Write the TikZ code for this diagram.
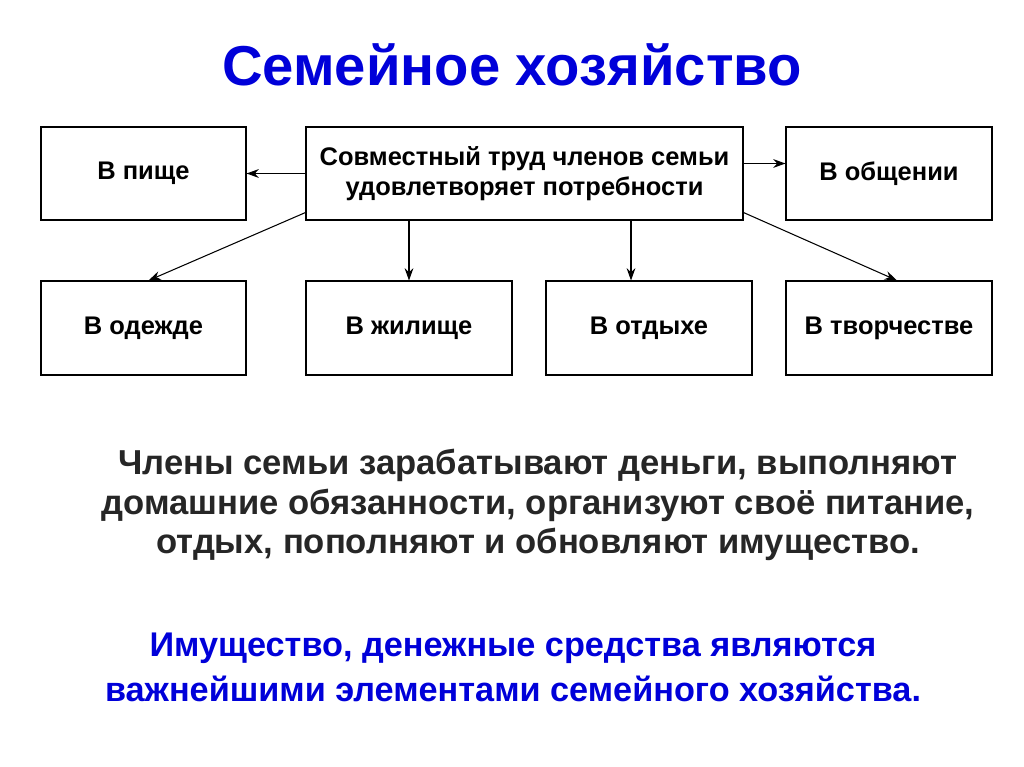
\documentclass[tikz,border=0pt]{standalone}
\usepackage{fontspec}
\setmainfont{Liberation Sans}
\usetikzlibrary{arrows.meta}
\begin{document}
\begin{tikzpicture}[x=0.02cm,y=-0.02cm,
  bx/.style={draw,line width=0.6pt,inner sep=0pt,font=\fontsize{14.5}{17}\selectfont\bfseries,align=center},
  ar/.style={-{Stealth[length=7pt,width=5pt]},line width=0.6pt}]
\useasboundingbox (0,0) rectangle (1024,767);
\node[font=\fontsize{32}{36}\selectfont\bfseries,text=blue!85!black] (t) at (512,65) {Семейное хозяйство};
\node[bx,minimum width=205*0.02cm,minimum height=93*0.02cm] (p) at (143.5,173.5) {В пище};
\node[bx,minimum width=437*0.02cm,minimum height=93*0.02cm] (c) at (524.5,173.5) {Совместный труд членов семьи\\удовлетворяет потребности};
\node[bx,minimum width=206*0.02cm,minimum height=93*0.02cm] (o) at (889,173.5) {В общении};
\node[bx,minimum width=205*0.02cm,minimum height=94*0.02cm] (od) at (143.5,328) {В одежде};
\node[bx,minimum width=206*0.02cm,minimum height=94*0.02cm] (zh) at (409,328) {В жилище};
\node[bx,minimum width=206*0.02cm,minimum height=94*0.02cm] (ot) at (649,328) {В отдыхе};
\node[bx,minimum width=206*0.02cm,minimum height=94*0.02cm] (tv) at (889,328) {В творчестве};
\draw[ar] (c.west|-p.east) -- (p.east);
\draw[ar] ([yshift=0.2cm]c.east) -- ([yshift=0.2cm]o.west);
\draw[ar] ([yshift=0.16cm]c.south west) -- ([xshift=-1.96cm]od.north east);
\draw[ar] (c.south-|zh.north) -- (zh.north);
\draw[ar] (631,220) coordinate(a1) -- (a1|-ot.north);
\draw[ar] ([yshift=0.16cm]c.south east) -- ([xshift=0.16cm]tv.north);
\node[font=\fontsize{19.7}{22.7}\selectfont\bfseries,text=black!85,align=center] (b) at (538,505) {Члены семьи зарабатывают деньги, выполняют\\домашние обязанности, организуют своё питание,\\отдых, пополняют и обновляют имущество.};
\node[font=\fontsize{19.5}{25.5}\selectfont\bfseries,text=blue!85!black,align=center] (bl) at (513,667) {Имущество, денежные средства являются\\важнейшими элементами семейного хозяйства.};
\end{tikzpicture}
\end{document}
